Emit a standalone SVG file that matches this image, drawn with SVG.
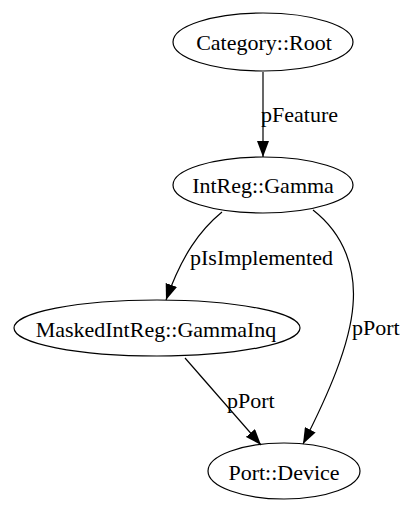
<svg xmlns="http://www.w3.org/2000/svg" width="417" height="514" viewBox="0 0 417 514">
<style>
.node ellipse{fill:none;stroke:#000;stroke-width:1.2}
.node text{text-anchor:middle}
.edge path{fill:none;stroke:#000;stroke-width:1.2}
</style>
<defs>
<marker id="arr" viewBox="0 0 16 12" refX="16" refY="6" markerWidth="16" markerHeight="12" markerUnits="userSpaceOnUse" orient="auto">
<path d="M0,0 L16,6 L0,12 z" fill="#000"/>
</marker>
</defs>
<rect width="417" height="514" fill="#fff"/>
<g font-family="Liberation Serif, serif" font-size="22" fill="#000">
<g id="edges">
<g class="edge" id="e-root-gamma"><path d="M263,72 L263,157" marker-end="url(#arr)"/><text x="261" y="122">pFeature</text></g>
<g class="edge" id="e-gamma-masked"><path d="M222,212 C200,230 182,255 166,300" marker-end="url(#arr)"/><text x="190" y="265">pIsImplemented</text></g>
<g class="edge" id="e-gamma-port"><path d="M313,210 C345,235 356,270 353,305 C350,345 328,395 303,444" marker-end="url(#arr)"/><text x="352" y="335">pPort</text></g>
<g class="edge" id="e-masked-port"><path d="M185,358 L261,445" marker-end="url(#arr)"/><text x="227" y="408">pPort</text></g>
</g>
<g class="node" id="n-root"><ellipse cx="263" cy="42" rx="90" ry="29"/><text x="264" y="50">Category::Root</text></g>
<g class="node" id="n-gamma"><ellipse cx="263" cy="185" rx="90" ry="28"/><text x="263" y="193">IntReg::Gamma</text></g>
<g class="node" id="n-masked"><ellipse cx="157" cy="328" rx="143" ry="28"/><text x="156" y="337">MaskedIntReg::GammaInq</text></g>
<g class="node" id="n-port"><ellipse cx="284" cy="471" rx="76" ry="28"/><text x="284" y="480">Port::Device</text></g>
</g>
</svg>
